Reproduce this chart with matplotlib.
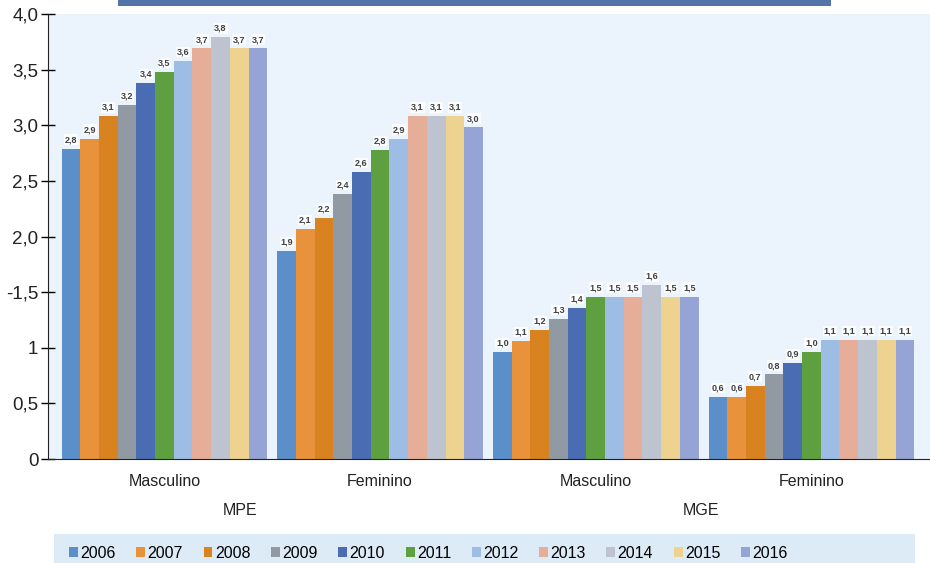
import matplotlib
matplotlib.use('Agg')
import matplotlib.pyplot as plt
from matplotlib.patches import Patch, Rectangle
import numpy as np

plt.rcParams['font.family'] = ['Liberation Sans', 'DejaVu Sans']

years = ['2006', '2007', '2008', '2009', '2010', '2011', '2012', '2013', '2014', '2015', '2016']
groups = ['Masculino', 'Feminino', 'Masculino', 'Feminino']
companies = ['MPE', 'MGE']

mpe_masc = [2.79, 2.88, 3.08, 3.18, 3.38, 3.48, 3.58, 3.69, 3.79, 3.69, 3.69]
mpe_fem = [1.87, 2.07, 2.17, 2.38, 2.58, 2.78, 2.88, 3.08, 3.08, 3.08, 2.98]
mge_masc = [0.96, 1.06, 1.16, 1.26, 1.36, 1.46, 1.46, 1.46, 1.56, 1.46, 1.46]
mge_fem = [0.56, 0.56, 0.66, 0.76, 0.86, 0.96, 1.07, 1.07, 1.07, 1.07, 1.07]

yticks = [0, 0.5, 1, 1.5, 2, 2.5, 3, 3.5, 4]
ytick_labels = ['0', '0,5', '1', '-1,5', '2,0', '2,5', '3,0', '3,5', '4,0']

colors = ['#5B8FC9', '#E8923B', '#D8831F', '#9199A3', '#4A6CB2', '#5EA03F',
          '#9DBDE5', '#E6AE98', '#BEC4CF', '#EDD38F', '#95A4D4']

data = np.array([mpe_masc, mpe_fem, mge_masc, mge_fem])

fig = plt.figure(figsize=(9.3, 5.63), dpi=100)
ax = fig.add_axes([48/930, 1-459/563, 1-48/930, (459-14)/563])
ax.set_facecolor('#EBF3FC')

x = np.arange(len(groups))
w = 0.0867
for i, yr in enumerate(years):
    pos = x + (i - 5) * w
    bars = ax.bar(pos, data[:, i], width=w, color=colors[i], label=yr)
    for b, v in zip(bars, data[:, i]):
        ax.text(b.get_x() + b.get_width()/2, v + 0.04, f'{v:.1f}'.replace('.', ','),
                ha='center', va='bottom', fontsize=6.5, fontweight='bold', color='#404040',
                bbox=dict(facecolor='white', edgecolor='none', pad=0.5, alpha=0.8))

ax.set_xlim(-0.54, 3.55)
ax.set_ylim(0, 4.0)
ax.set_yticks(yticks)
ax.set_yticklabels(ytick_labels, fontsize=13.5, color='#222222')
ax.tick_params(axis='y', direction='inout', length=10, width=1, pad=2)
ax.set_xticks(x)
ax.set_xticklabels(groups, fontsize=11.5, color='#222222')
ax.tick_params(axis='x', length=0, pad=11)

for s in ['top', 'right']:
    ax.spines[s].set_visible(False)
ax.spines['left'].set_color('#222222')
ax.spines['bottom'].set_color('#222222')

# company labels
ax.text(0.35, -0.46, companies[0], ha='center', va='center', fontsize=11.5,
        color='#222222', clip_on=False)
ax.text(2.49, -0.46, companies[1], ha='center', va='center', fontsize=11.5,
        color='#222222', clip_on=False)

# title bar (cut off at the top)
fig.patches.append(Rectangle((118/930, 1-6/563), (831-118)/930, 6/563,
                             transform=fig.transFigure, facecolor='#5473A8', edgecolor='none'))

# legend box
fig.patches.append(Rectangle((54/930, 0), (915-54)/930, 29/563,
                             transform=fig.transFigure, facecolor='#DDEBF7', edgecolor='none'))
handles = [Patch(facecolor=c, edgecolor='none') for c in colors]
fig.legend(handles, years, loc='center left', bbox_to_anchor=(69/930, 1-553/563), ncol=11,
           frameon=False, fontsize=11.5, handlelength=0.55, handleheight=0.55,
           handletextpad=0.15, columnspacing=1.3, borderaxespad=0, borderpad=0)

fig.savefig('out.png', dpi=100)
